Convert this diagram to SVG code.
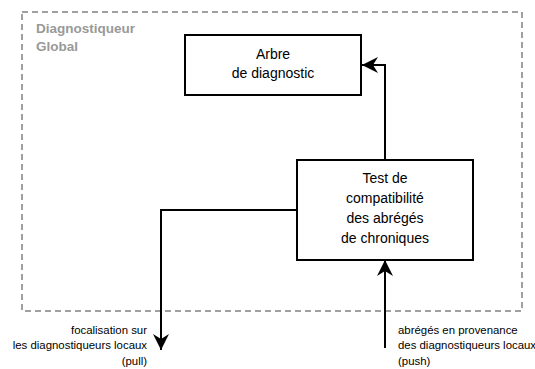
<svg xmlns="http://www.w3.org/2000/svg" width="535" height="369" viewBox="0 0 535 369">
<style>
.node rect{fill:#fff;stroke:#000;stroke-width:2}
.t{font-family:"Liberation Sans",Arial,sans-serif;font-size:14px;fill:#000;text-anchor:middle}
.s{font-family:"Liberation Sans",Arial,sans-serif;font-size:11.4px;fill:#000}
.g{font-family:"Liberation Sans",Arial,sans-serif;font-size:13.5px;font-weight:bold;fill:#999}
.c path{fill:none;stroke:#000;stroke-width:2}
</style>
<defs>
<marker id="ah" markerUnits="userSpaceOnUse" markerWidth="18" markerHeight="18" viewBox="0 0 18 18" refX="16" refY="9" orient="auto">
<path d="M0,1 L16,9 L0,17 L5,9 Z" fill="#000"/>
</marker>
</defs>
<g id="container">
<rect x="22" y="12" width="500" height="299" fill="none" stroke="#a0a0a0" stroke-width="2" stroke-dasharray="6 4"/>
<text class="g" x="36" y="33">Diagnostiqueur</text>
<text class="g" x="36" y="51">Global</text>
</g>
<g id="arbre" class="node">
<rect x="185" y="35" width="176" height="60"/>
<text class="t" x="273" y="59">Arbre</text>
<text class="t" x="273" y="78">de diagnostic</text>
</g>
<g id="test" class="node">
<rect x="297" y="160" width="176" height="100"/>
<text class="t" x="385" y="183">Test de</text>
<text class="t" x="385" y="203">compatibilité</text>
<text class="t" x="385" y="223">des abrégés</text>
<text class="t" x="385" y="243">de chroniques</text>
</g>
<g id="connectors" class="c">
<path d="M385,160 V65 H362" marker-end="url(#ah)"/>
<path d="M297,210 H161 V350" marker-end="url(#ah)"/>
<path d="M385,348 V260" marker-end="url(#ah)"/>
</g>
<g id="labels">
<text class="s" x="147" y="334" text-anchor="end">focalisation sur</text>
<text class="s" x="147" y="349" text-anchor="end">les diagnostiqueurs locaux</text>
<text class="s" x="147" y="365" text-anchor="end">(pull)</text>
<text class="s" x="398" y="334">abrégés en provenance</text>
<text class="s" x="398" y="349">des diagnostiqueurs locaux</text>
<text class="s" x="398" y="365">(push)</text>
</g>
</svg>
